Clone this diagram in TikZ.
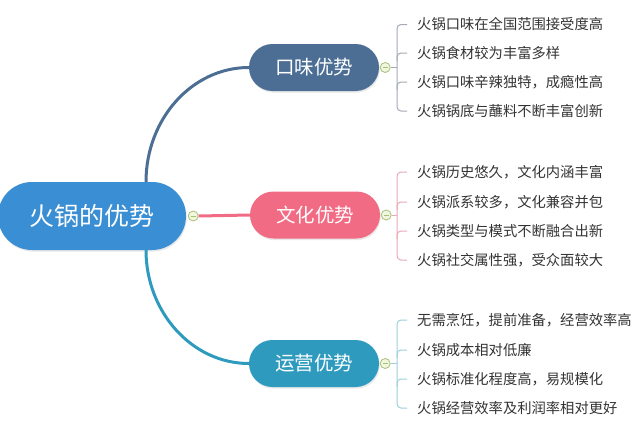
\documentclass[tikz,border=0pt]{standalone}
\usepackage{fontspec}
\newfontfamily\cjk{Noto Sans CJK SC}
\usetikzlibrary{shadows}
\definecolor{rootc}{HTML}{3A8ED4}
\definecolor{kwc}{HTML}{4C6E94}
\definecolor{whc}{HTML}{F26B85}
\definecolor{yyc}{HTML}{2E9BBE}
\definecolor{kwb}{HTML}{A4ABB4}
\definecolor{whb}{HTML}{EBA9B8}
\definecolor{yyb}{HTML}{9DD0DA}
\definecolor{colg}{HTML}{A8BF78}
\definecolor{colf}{HTML}{F1F6DE}
\definecolor{leaftext}{HTML}{333333}
\begin{document}
\begin{tikzpicture}[x=1pt,y=-1pt,
  pill/.style={text=white, inner sep=0pt,
    drop shadow={opacity=0.18, shadow xshift=0.8pt, shadow yshift=-1.6pt}},
  rootnode/.style={pill, fill=rootc, minimum width=188pt, minimum height=68pt,
    rounded corners=34pt, font=\cjk\fontsize{25}{28}\selectfont},
  branch/.style={pill, minimum width=130pt, minimum height=47pt,
    rounded corners=23.5pt, font=\cjk\fontsize{19.5}{22}\selectfont},
  leaf/.style={anchor=west, inner sep=0pt, text=leaftext,
    font=\cjk\fontsize{14.3}{17}\selectfont},
  collapse/.style={circle, minimum size=10pt, inner sep=0pt, draw=colg,
    fill=colf, line width=0.8pt,
    path picture={\draw[colg, line width=0.8pt]
      ([xshift=2.5pt]path picture bounding box.west) --
      ([xshift=-2.5pt]path picture bounding box.east);}},
  conn/.style={line width=3pt},
  brk/.style={line width=1pt, rounded corners=4pt}
]
\useasboundingbox (0,0) rectangle (640,431);

% main nodes
\node[rootnode] (root) at (92,216) {火锅的优势};
\node[branch, fill=kwc] (kw) at (314,67.5) {口味优势};
\node[branch, fill=whc] (wh) at (315,215) {文化优势};
\node[branch, fill=yyc] (yy) at (314,363.5) {运营优势};

% connectors from root
\node[collapse] (c0) at ([xshift=7pt]root.east) {};
\draw[conn, kwc] ([xshift=54pt]root.north) .. controls (146,119) and (192,67.5) .. (kw.west);
\draw[conn, yyc] ([xshift=54pt]root.south) .. controls (146,312) and (192,363.5) .. (yy.west);
\draw[conn, whc] (c0.east) -- (wh.west);

% collapse buttons of branches
\node[collapse] (c1) at ([xshift=6pt]kw.east) {};
\node[collapse] (c2) at ([xshift=6pt]wh.east) {};
\node[collapse] (c3) at ([xshift=6pt]yy.east) {};

% leaves
\node[leaf] (k1) at (417,24.5) {火锅口味在全国范围接受度高};
\node[leaf] (k2) at (417,53) {火锅食材较为丰富多样};
\node[leaf] (k3) at (417,82) {火锅口味辛辣独特，成瘾性高};
\node[leaf] (k4) at (417,111) {火锅锅底与蘸料不断丰富创新};

\node[leaf] (w1) at (417,172) {火锅历史悠久，文化内涵丰富};
\node[leaf] (w2) at (417,202) {火锅派系较多，文化兼容并包};
\node[leaf] (w3) at (417,231) {火锅类型与模式不断融合出新};
\node[leaf] (w4) at (417,260) {火锅社交属性强，受众面较大};

\node[leaf] (y1) at (417,320) {无需烹饪，提前准备，经营效率高};
\node[leaf] (y2) at (417,350) {火锅成本相对低廉};
\node[leaf] (y3) at (417,379) {火锅标准化程度高，易规模化};
\node[leaf] (y4) at (417,408) {火锅经营效率及利润率相对更好};

% brackets
\coordinate (b1) at (397,67.5);
\coordinate (b2) at (397,215);
\coordinate (b3) at (397,363.5);

\draw[kwb, line width=1pt] (c1.east) -- (b1);
\draw[kwb, brk] ([xshift=-10pt]k1.west) -| (b1 |- k4.west) -- ([xshift=-10pt]k4.west);
\draw[kwb, brk] ([yshift=-8pt]b1 |- k2.west) |- ([xshift=-10pt]k2.west);
\draw[kwb, brk] ([yshift=-8pt]b1 |- k3.west) |- ([xshift=-10pt]k3.west);

\draw[whb, line width=1pt] (c2.east) -- (b2);
\draw[whb, brk] ([xshift=-10pt]w1.west) -| (b2 |- w4.west) -- ([xshift=-10pt]w4.west);
\draw[whb, brk] ([yshift=-8pt]b2 |- w2.west) |- ([xshift=-10pt]w2.west);
\draw[whb, brk] ([yshift=-8pt]b2 |- w3.west) |- ([xshift=-10pt]w3.west);

\draw[yyb, line width=1pt] (c3.east) -- (b3);
\draw[yyb, brk] ([xshift=-10pt]y1.west) -| (b3 |- y4.west) -- ([xshift=-10pt]y4.west);
\draw[yyb, brk] ([yshift=-8pt]b3 |- y2.west) |- ([xshift=-10pt]y2.west);
\draw[yyb, brk] ([yshift=-8pt]b3 |- y3.west) |- ([xshift=-10pt]y3.west);
\end{tikzpicture}
\end{document}
